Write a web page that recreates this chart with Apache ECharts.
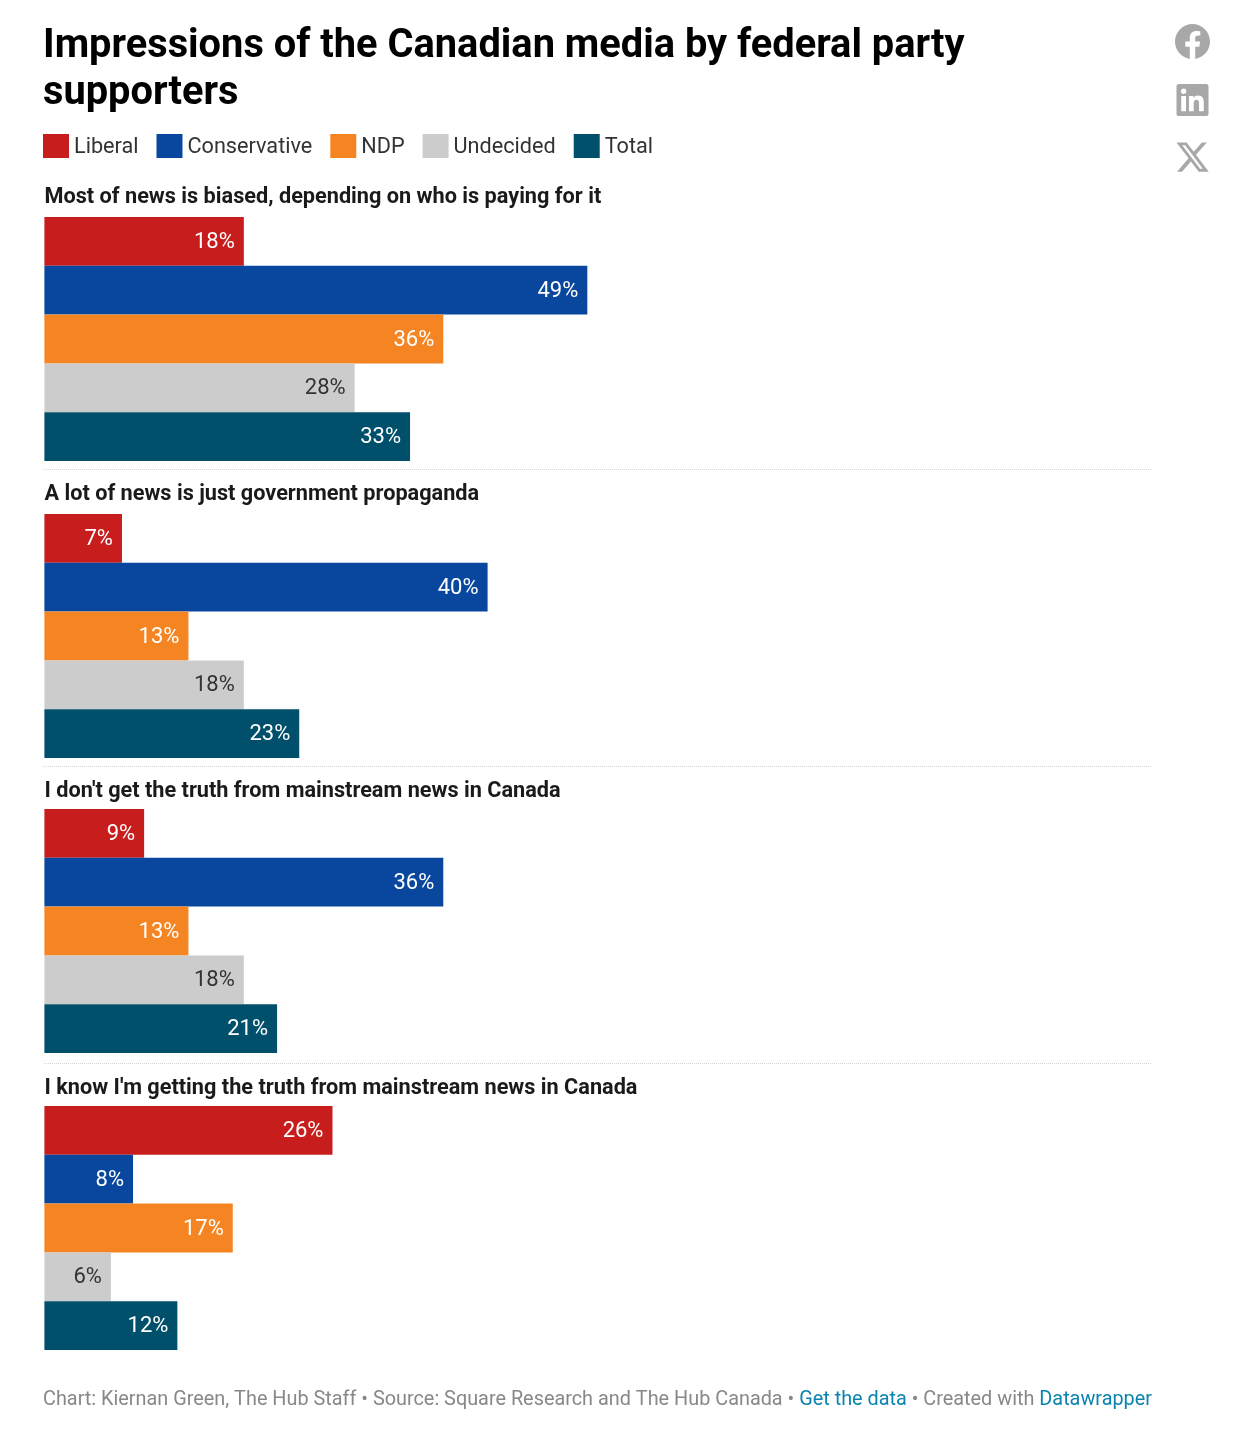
<!DOCTYPE html>
<html>
<head>
<meta charset="utf-8">
<script src="https://cdn.jsdelivr.net/npm/echarts@6/dist/echarts.min.js"></script>
<style>html,body{margin:0;padding:0;background:#fff}#c{width:1258px;height:1444px}</style>
</head>
<body>
<div id="c"></div>
<script>
const parties = ["Liberal", "Conservative", "NDP", "Undecided", "Total"];
const questions = [
  "Most of news is biased, depending on who is paying for it",
  "A lot of news is just government propaganda",
  "I don't get the truth from mainstream news in Canada",
  "I know I'm getting the truth from mainstream news in Canada"
];
const liberal = [18, 7, 9, 26];
const conservative = [49, 40, 36, 8];
const ndp = [36, 13, 13, 17];
const undecided = [28, 18, 18, 6];
const total = [33, 23, 21, 12];
const partyValues = [liberal, conservative, ndp, undecided, total];
const colors = ["#C71E1D", "#09479E", "#F58522", "#CCCCCC", "#00506B"];
const labelColors = ["#fff", "#fff", "#fff", "#333", "#fff"];
const gridTops = [217, 514, 809, 1106];
const titleTops = [185, 482, 779, 1076];
const sepYs = [469, 766, 1063];
const font = "Roboto, sans-serif";

const chart = echarts.init(document.getElementById("c"), null, {renderer: "canvas", width: 1258, height: 1444});

const grid = [], xAxis = [], yAxis = [], series = [];
questions.forEach((q, i) => {
  grid.push({left: 44.4, width: 1108, top: gridTops[i], height: 244, containLabel: false});
  xAxis.push({gridIndex: i, type: "value", min: 0, max: 100, show: false});
  yAxis.push({gridIndex: i, type: "category", inverse: true, data: [q], show: false});
  parties.forEach((p, j) => {
    series.push({
      name: p, type: "bar", xAxisIndex: i, yAxisIndex: i,
      data: [partyValues[j][i]],
      barGap: 0, barCategoryGap: 0,
      itemStyle: {color: colors[j]},
      animation: false,
      label: {show: true, position: "insideRight", distance: 9, offset: [0, 1], formatter: "{c}%",
        color: labelColors[j], fontFamily: font, fontSize: 22, fontWeight: 400}
    });
  });
});

const icons = [
  {name: "iconFacebook", d: "M24 12.073c0-6.627-5.373-12-12-12s-12 5.373-12 12c0 5.99 4.388 10.954 10.125 11.854v-8.385H7.078v-3.47h3.047V9.43c0-3.007 1.792-4.669 4.533-4.669 1.312 0 2.686.235 2.686.235v2.953H15.83c-1.491 0-1.956.925-1.956 1.874v2.25h3.328l-.532 3.47h-2.796v8.385C19.612 23.027 24 18.062 24 12.073z", x: 1175, y: 24, s: 35 / 24},
  {name: "iconLinkedin", d: "M20.447 20.452h-3.554v-5.569c0-1.328-.027-3.037-1.852-3.037-1.853 0-2.136 1.445-2.136 2.939v5.667H9.351V9h3.414v1.561h.046c.477-.9 1.637-1.85 3.37-1.85 3.601 0 4.267 2.37 4.267 5.455v6.286zM5.337 7.433c-1.144 0-2.063-.926-2.063-2.065 0-1.138.92-2.063 2.063-2.063 1.14 0 2.064.925 2.064 2.063 0 1.139-.925 2.065-2.064 2.065zm1.782 13.019H3.555V9h3.564v11.452zM22.225 0H1.771C.792 0 0 .774 0 1.729v20.542C0 23.227.792 24 1.771 24h20.451C23.2 24 24 23.227 24 22.271V1.729C24 .774 23.2 0 22.222 0h.003z", x: 1176.5, y: 84, s: 32 / 24},
  {name: "iconX", d: "M18.244 2.25h3.308l-7.227 8.26 8.502 11.24H16.17l-5.214-6.817L4.99 21.75H1.68l7.73-8.835L1.254 2.25H8.08l4.713 6.231zm-1.161 17.52h1.833L7.084 4.126H5.117z", x: 1174.5, y: 139, s: 36 / 24}
];
icons.forEach(ic => echarts.graphic.registerShape(ic.name, echarts.graphic.extendPath(ic.d, {})));

const graphic = [];
sepYs.forEach(y => graphic.push({type: "line", silent: true,
  shape: {x1: 44, y1: y + 0.5, x2: 1151, y2: y + 0.5},
  style: {stroke: "#d6d6d6", lineWidth: 1, lineDash: [1, 1]}}));
icons.forEach(ic => graphic.push({type: ic.name, silent: true,
  x: ic.x, y: ic.y, scaleX: ic.s, scaleY: ic.s,
  style: {fill: "#A8A8A8"}}));

const titles = [{
  text: "Impressions of the Canadian media by federal party\nsupporters",
  left: 43, top: 24, padding: 0,
  textStyle: {fontFamily: font, fontSize: 39.8, fontWeight: 700, color: "#000", lineHeight: 47}
}];
questions.forEach((q, i) => titles.push({
  text: q, left: 44.5, top: titleTops[i], padding: 0,
  textStyle: {fontFamily: font, fontSize: 21.7, fontWeight: 700, color: "#1a1a1a", lineHeight: 26}
}));
titles.push({
  text: "{g|Chart: Kiernan Green, The Hub Staff • Source: Square Research and The Hub Canada • }{b|Get the data}{g| • Created with }{b|Datawrapper}",
  left: 43, top: 1387, padding: 0,
  textStyle: {fontFamily: font, fontSize: 19.85, fontWeight: 400, lineHeight: 26, rich: {
    g: {color: "#888888", fontFamily: font, fontSize: 19.85, fontWeight: 400},
    b: {color: "#0A84AE", fontFamily: font, fontSize: 19.85, fontWeight: 400}
  }}
});

chart.setOption({
  backgroundColor: "#fff",
  animation: false,
  color: colors,
  title: titles,
  legend: {
    data: parties, left: 43, top: 134, padding: 0, itemWidth: 26, itemHeight: 24, itemGap: 18,
    icon: "rect", selectedMode: false,
    formatter: "{a|{name}}",
    textStyle: {fontFamily: font, fontSize: 21.65, color: "#333", rich: {
      a: {fontFamily: font, fontSize: 21.65, color: "#333", padding: [3, 0, 0, 0]}
    }}
  },
  tooltip: {show: false},
  grid, xAxis, yAxis, series, graphic
});
</script>
</body>
</html>
